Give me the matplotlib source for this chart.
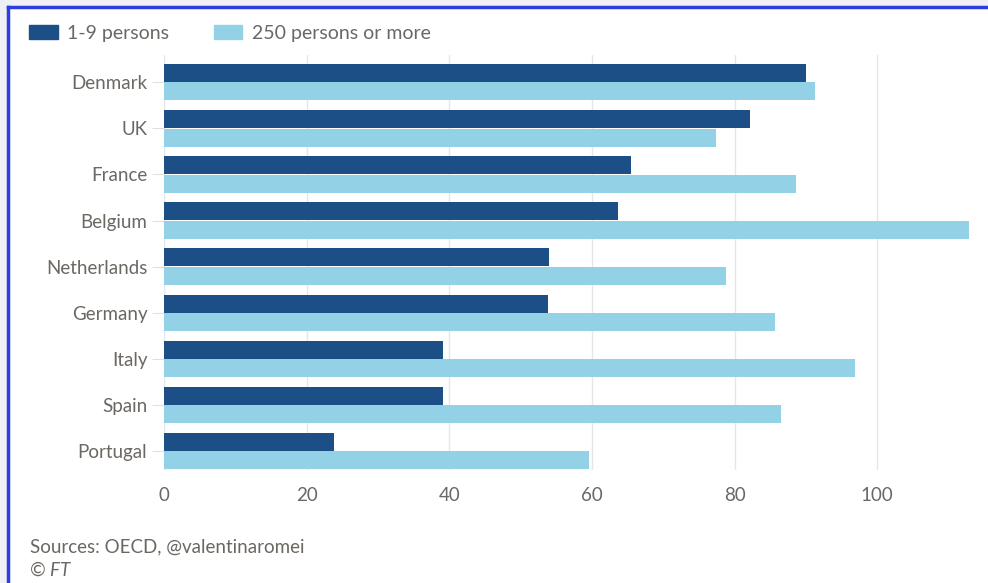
import matplotlib
matplotlib.use("Agg")
import matplotlib.pyplot as plt
from matplotlib.patches import Rectangle, Patch
import numpy as np

countries = ["Denmark", "UK", "France", "Belgium", "Netherlands",
             "Germany", "Italy", "Spain", "Portugal"]
small_firms = [90.0, 82.2, 65.5, 63.7, 54.0, 53.9, 39.1, 39.1, 23.8]
large_firms = [91.2, 77.4, 88.6, 112.8, 78.8, 85.7, 96.9, 86.5, 59.6]
xticks = [0, 20, 40, 60, 80, 100]

DARK = "#1d4f87"
LIGHT = "#93d2e6"
TEXT = "#6b6763"
GRID = "#e6e6e6"
FS = 13.5

plt.rcParams["font.family"] = ["Lato", "DejaVu Sans"]

fig = plt.figure(figsize=(9.88, 5.83), dpi=100)
fig.patch.set_facecolor("#eef0f3")
# white card with a blue frame on its top and left edges
fig.patches.append(Rectangle((8 / 988, 0), 1, 1 - 7 / 583, transform=fig.transFigure,
                             facecolor="white", edgecolor="none", zorder=-2))
fig.lines.append(plt.Line2D([8 / 988, 8 / 988], [0, 1 - 7 / 583], transform=fig.transFigure,
                            color="#2b3fe0", lw=2.5, zorder=-1))
fig.lines.append(plt.Line2D([8 / 988, 1], [1 - 7 / 583, 1 - 7 / 583], transform=fig.transFigure,
                            color="#2b3fe0", lw=2.5, zorder=-1))

ax = fig.add_axes([164 / 988, 113 / 583, (970 - 164) / 988, (528 - 113) / 583])
ax.set_facecolor("none")
ax.set_zorder(1)

y = np.arange(len(countries))
h = 0.39
ax.barh(y - 0.2, small_firms, height=h, color=DARK, zorder=2)
ax.barh(y + 0.2, large_firms, height=h, color=LIGHT, zorder=2)

ax.set_xlim(0, 113)
ax.set_ylim(8.41, -0.59)
ax.set_xticks(xticks)
ax.set_yticks(y)
ax.set_yticklabels(countries)
ax.grid(axis="x", color=GRID, lw=1, zorder=0)
for s in ax.spines.values():
    s.set_visible(False)
ax.tick_params(axis="x", length=0, pad=12, labelsize=FS, labelcolor=TEXT)
ax.tick_params(axis="y", length=9, width=0.8, color="#e0e0e0", pad=3,
               labelsize=FS, labelcolor=TEXT)

handles = [Patch(color=DARK, label="1-9 persons"),
           Patch(color=LIGHT, label="250 persons or more")]
leg = fig.legend(handles=handles, loc="upper left", bbox_to_anchor=(0.012, 0.987),
                 ncol=2, frameon=False, fontsize=14, handlelength=1.45, handleheight=0.7,
                 handletextpad=0.5, columnspacing=2.3)
for t in leg.get_texts():
    t.set_color(TEXT)

fig.text(30 / 988, 1 - 547 / 583, "Sources: OECD, @valentinaromei", fontsize=FS,
         color=TEXT, va="center")
fig.text(30 / 988, 1 - 570 / 583, "© FT", fontsize=FS, color=TEXT, va="center",
         style="italic")

fig.savefig("out.png", dpi=100)
